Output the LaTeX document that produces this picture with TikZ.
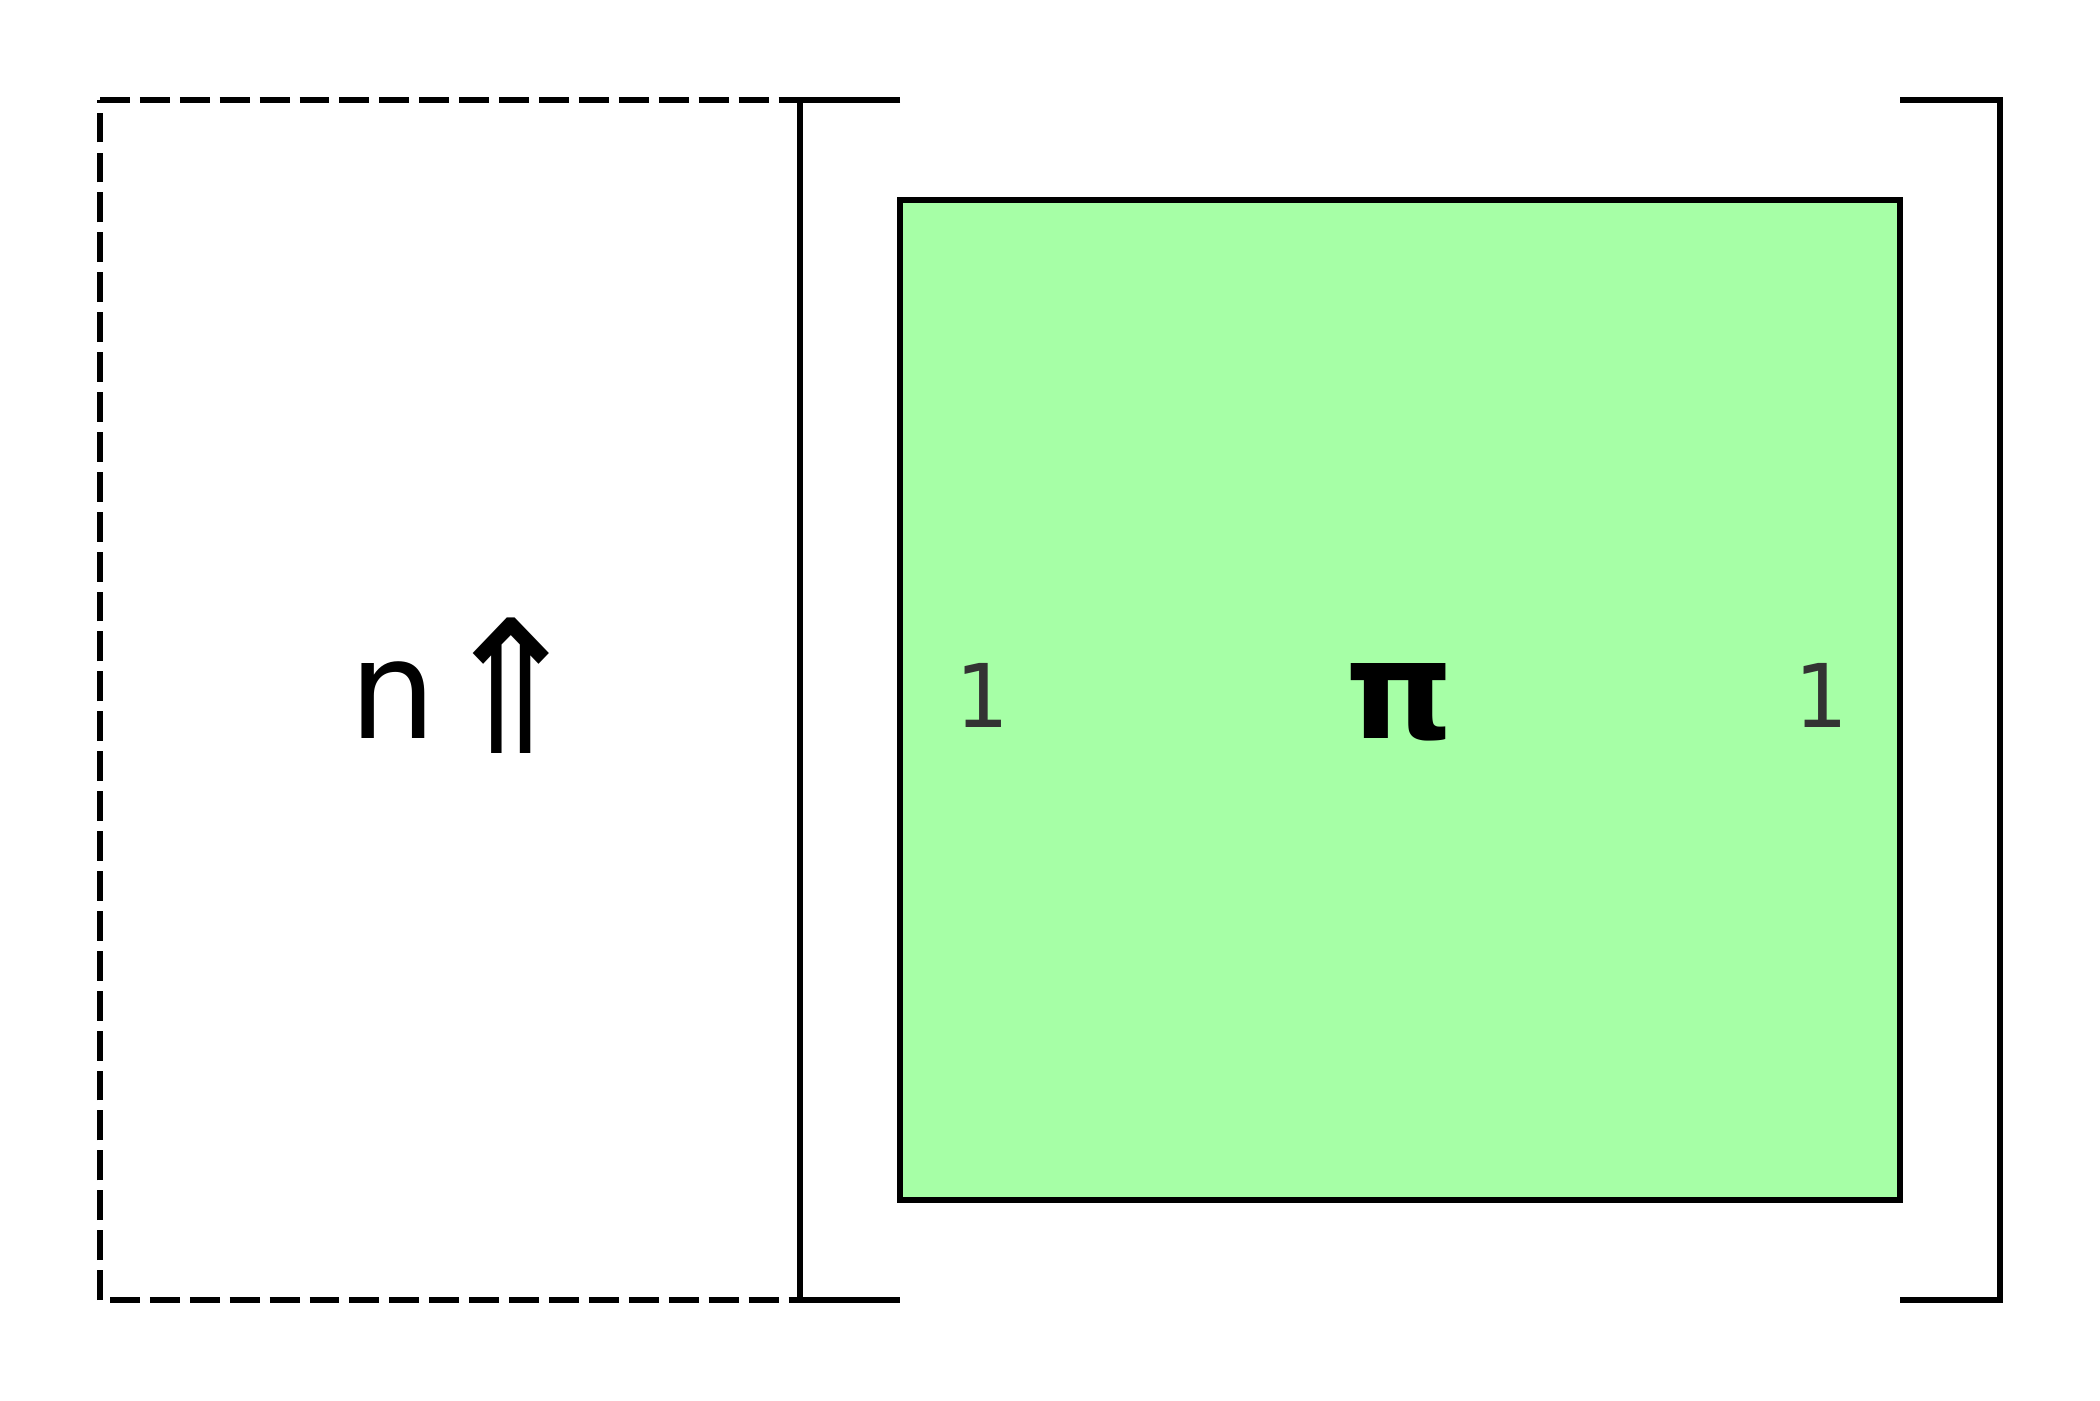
\documentclass[tikz,border=0pt]{standalone}
\usepackage{fontspec}
\setmainfont{DejaVu Sans}
\newfontfamily\monof{DejaVu Sans Mono}
\definecolor{boxgreen}{RGB}{166,255,166}
\definecolor{numgray}{RGB}{51,51,51}
\begin{document}
\begin{tikzpicture}[x=0.01cm,y=-0.01cm,
  ln/.style={line width=1.45pt,black},
  dsh/.style={ln,dash pattern=on 8.5pt off 2.85pt},
  lbl/.style={anchor=base,inner sep=0pt,font=\fontsize{39}{44}\selectfont},
  numlbl/.style={anchor=base,inner sep=0pt,text=numgray,font=\monof\fontsize{25}{30}\selectfont}]
\useasboundingbox (0,0) rectangle (2100,1400);
% dashed box
\coordinate (d1) at (100,100);
\coordinate (d2) at (800,100);
\coordinate (d3) at (100,1300);
\coordinate (d4) at (110,1300);
\coordinate (d5) at (800,1300);
\draw[dsh] (d1) -- (d2);
\draw[dsh] (d3) -- (d1);
\draw[dsh] (d4) -- (d5);
% left bracket
\coordinate (lb1) at (900,100);
\coordinate (lb2) at (800,100);
\coordinate (lb3) at (800,1300);
\coordinate (lb4) at (900,1300);
\draw[ln] (lb1) -- (lb2) -- (lb3) -- (lb4);
% right bracket
\coordinate (rb1) at (1900,100);
\coordinate (rb2) at (2000,100);
\coordinate (rb3) at (2000,1300);
\coordinate (rb4) at (1900,1300);
\draw[ln] (rb1) -- (rb2) -- (rb3) -- (rb4);
% green box
\node[draw=black,line width=1.45pt,fill=boxgreen,minimum width=1000*0.01cm,minimum height=1000*0.01cm,inner sep=0pt] (box) at (1400,700) {};
% labels
\node[lbl,anchor=base west] (nup) at (349,738) {n\raisebox{-0.15cm}{\scalebox{1.3}[1.35]{⇑}}};
\node[lbl,font=\bfseries\fontsize{39}{44}\selectfont] (pi) at (1400,738) {π};
\node[numlbl] (one1) at (981,727) {1};
\node[numlbl] (one2) at (1820,727) {1};
\end{tikzpicture}
\end{document}
